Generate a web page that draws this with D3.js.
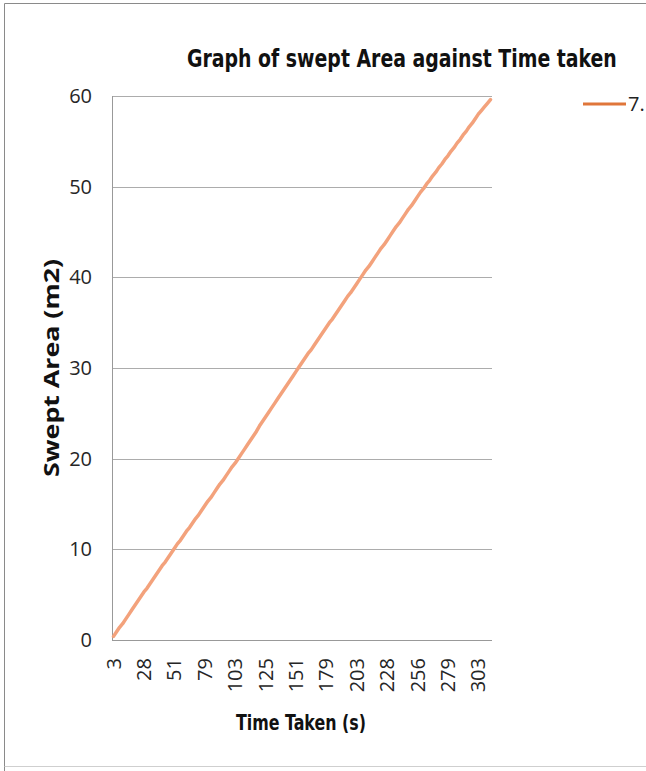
<!DOCTYPE html>
<html>
<head>
<meta charset="utf-8">
<script src="https://cdn.jsdelivr.net/npm/d3@7"></script>
<style>
  body { margin: 0; background: #fff; }
  svg { display: block; }
</style>
</head>
<body>
<div id="chart-area"></div>
<script>
// time taken (s) for each reading - category axis
const timeTaken = [
  3, 5, 8, 10, 13, 15, 18, 20, 23, 25,
  28, 30, 33, 35, 37, 39, 42, 44, 46, 49,
  51, 54, 57, 59, 62, 65, 68, 71, 73, 76,
  79, 81, 84, 86, 89, 91, 93, 96, 98, 101,
  103, 105, 107, 109, 112, 114, 116, 118, 120, 123,
  125, 128, 130, 133, 135, 138, 140, 143, 146, 148,
  151, 154, 157, 159, 162, 165, 168, 171, 173, 176,
  179, 181, 184, 186, 189, 191, 193, 196, 198, 201,
  203, 206, 208, 211, 213, 216, 218, 221, 223, 226,
  228, 231, 234, 237, 239, 242, 245, 248, 251, 253,
  256, 258, 260, 263, 265, 267, 270, 272, 274, 277,
  279, 281, 284, 286, 289, 291, 293, 296, 298, 301,
  303, 305, 308, 310, 313
];

// swept area (m2)
const sweptArea = [
  0.4, 0.9, 1.4, 1.8, 2.3, 2.8, 3.3, 3.8, 4.3, 4.8,
  5.3, 5.7, 6.2, 6.7, 7.2, 7.7, 8.2, 8.6, 9.1, 9.6,
  10.1, 10.6, 11.0, 11.5, 12.0, 12.4, 12.9, 13.4, 13.8, 14.3,
  14.8, 15.3, 15.7, 16.2, 16.7, 17.2, 17.6, 18.1, 18.6, 19.1,
  19.5, 20.0, 20.5, 21.0, 21.5, 22.0, 22.5, 23.0, 23.6, 24.1,
  24.6, 25.1, 25.6, 26.1, 26.6, 27.1, 27.6, 28.1, 28.6, 29.1,
  29.6, 30.1, 30.6, 31.1, 31.6, 32.0, 32.5, 33.0, 33.5, 34.0,
  34.5, 35.0, 35.4, 35.9, 36.4, 36.9, 37.4, 37.9, 38.3, 38.8,
  39.3, 39.8, 40.3, 40.8, 41.2, 41.7, 42.2, 42.7, 43.2, 43.6,
  44.1, 44.6, 45.1, 45.6, 46.0, 46.5, 47.0, 47.5, 47.9, 48.4,
  48.9, 49.4, 49.8, 50.3, 50.7, 51.2, 51.6, 52.1, 52.5, 53.0,
  53.4, 53.9, 54.3, 54.8, 55.2, 55.7, 56.1, 56.6, 57.0, 57.5,
  58.0, 58.4, 58.8, 59.2, 59.6
];

const yTicks = [0, 10, 20, 30, 40, 50, 60];
const labelEvery = 10;   // excel shows every 10th category
const seriesName = "7.";

const W = 646, H = 771;
const margin = {left: 112, top: 96, right: 154, bottom: 131};
const width = W - margin.left - margin.right,
      height = H - margin.top - margin.bottom;

const narrow = "'Liberation Sans Narrow', 'DejaVu Sans Condensed', sans-serif";
const plain = "'Open Sans', 'Noto Sans', sans-serif";

let svg = d3.select("#chart-area")
  .append("svg")
  .attr("width", W)
  .attr("height", H);

// outer chart border
svg.append("path")
  .attr("d", "M4.5,771 V3.5 H646")
  .attr("fill", "none")
  .attr("stroke", "#8a8a8a");
svg.append("line")
  .attr("x1", 4.5).attr("x2", 646)
  .attr("y1", 766.5).attr("y2", 766.5)
  .attr("stroke", "#cfcfcf");

let group = svg.append("g")
  .attr("transform", "translate(" + margin.left + "," + margin.top + ")");

// scales
let idx = d3.range(timeTaken.length);
let x = d3.scaleBand()
  .domain(idx)
  .range([0, width])
  .paddingInner(0)
  .paddingOuter(0);
let xc = i => x(i) + x.bandwidth() / 2;

let y = d3.scaleLinear()
  .domain([0, 60])
  .range([height, 0]);

// gridlines
group.append("g")
  .selectAll("line")
  .data(yTicks.filter(d => d > 0))
  .enter()
  .append("line")
  .attr("x1", 0).attr("x2", width)
  .attr("y1", d => Math.round(y(d)) + 0.5)
  .attr("y2", d => Math.round(y(d)) + 0.5)
  .attr("stroke", "#acacac");

// y axis
let yAxisCall = d3.axisLeft(y)
  .tickValues(yTicks)
  .tickSize(0)
  .tickPadding(20);
let yAxis = group.append("g").call(yAxisCall);
yAxis.select(".domain").remove();
yAxis.selectAll("text")
  .attr("font-family", plain)
  .attr("font-size", "20px")
  .attr("fill", "#262626");

// axis lines
group.append("line")
  .attr("x1", 0.5).attr("x2", 0.5)
  .attr("y1", 0).attr("y2", height)
  .attr("stroke", "#999");
group.append("line")
  .attr("x1", 0).attr("x2", width)
  .attr("y1", height + 0.5).attr("y2", height + 0.5)
  .attr("stroke", "#999");

// x axis (category labels every 10th reading)
let xAxisCall = d3.axisBottom(x)
  .tickValues(idx.filter(i => i % labelEvery === 0))
  .tickFormat(i => timeTaken[i])
  .tickSize(0);
let xAxis = group.append("g")
  .attr("transform", "translate(0," + height + ")")
  .call(xAxisCall);
xAxis.select(".domain").remove();
xAxis.selectAll("text")
  .attr("font-family", plain)
  .attr("font-size", "20px")
  .attr("fill", "#262626")
  .attr("y", 0)
  .attr("x", -18)
  .attr("dy", "0.35em")
  .attr("text-anchor", "end")
  .attr("transform", "rotate(-90)");

// the line
let line = d3.line()
  .x((d, i) => xc(i))
  .y(d => y(d));
group.append("path")
  .datum(sweptArea)
  .attr("d", line)
  .attr("fill", "none")
  .attr("stroke", "#f3a27c")
  .attr("stroke-width", 3.5)
  .attr("stroke-linejoin", "round")
  .attr("stroke-linecap", "round");

// squeeze a text horizontally so it spans the given width
function fitWidth(sel, x0, y0, w) {
  let natural = sel.node().getComputedTextLength();
  let k = Math.min(1, w / natural);
  sel.attr("transform", "translate(" + x0 + "," + y0 + ") scale(" + k + ",1)");
}

// title
let title = svg.append("text")
  .attr("font-family", narrow)
  .attr("font-weight", "bold")
  .attr("font-size", "25px")
  .attr("fill", "#111")
  .text("Graph of swept Area against Time taken");
fitWidth(title, 187, 67, 430);

// y label
svg.append("text")
  .attr("transform", "translate(59,368) rotate(-90)")
  .attr("text-anchor", "middle")
  .attr("font-family", plain)
  .attr("font-weight", "bold")
  .attr("font-size", "21px")
  .attr("textLength", 218)
  .attr("lengthAdjust", "spacingAndGlyphs")
  .attr("fill", "#111")
  .text("Swept Area (m2)");

// x label
let xTitle = svg.append("text")
  .attr("font-family", narrow)
  .attr("font-weight", "bold")
  .attr("font-size", "22px")
  .attr("fill", "#111")
  .text("Time Taken (s)");
fitWidth(xTitle, 236, 730, 130);

// legend
svg.append("line")
  .attr("x1", 583).attr("x2", 626)
  .attr("y1", 104).attr("y2", 104)
  .attr("stroke", "#e0763a")
  .attr("stroke-width", 3);
svg.append("text")
  .attr("x", 628)
  .attr("y", 104)
  .attr("dy", "0.35em")
  .attr("font-family", plain)
  .attr("font-size", "20px")
  .attr("fill", "#222")
  .text(seriesName);
</script>
</body>
</html>
